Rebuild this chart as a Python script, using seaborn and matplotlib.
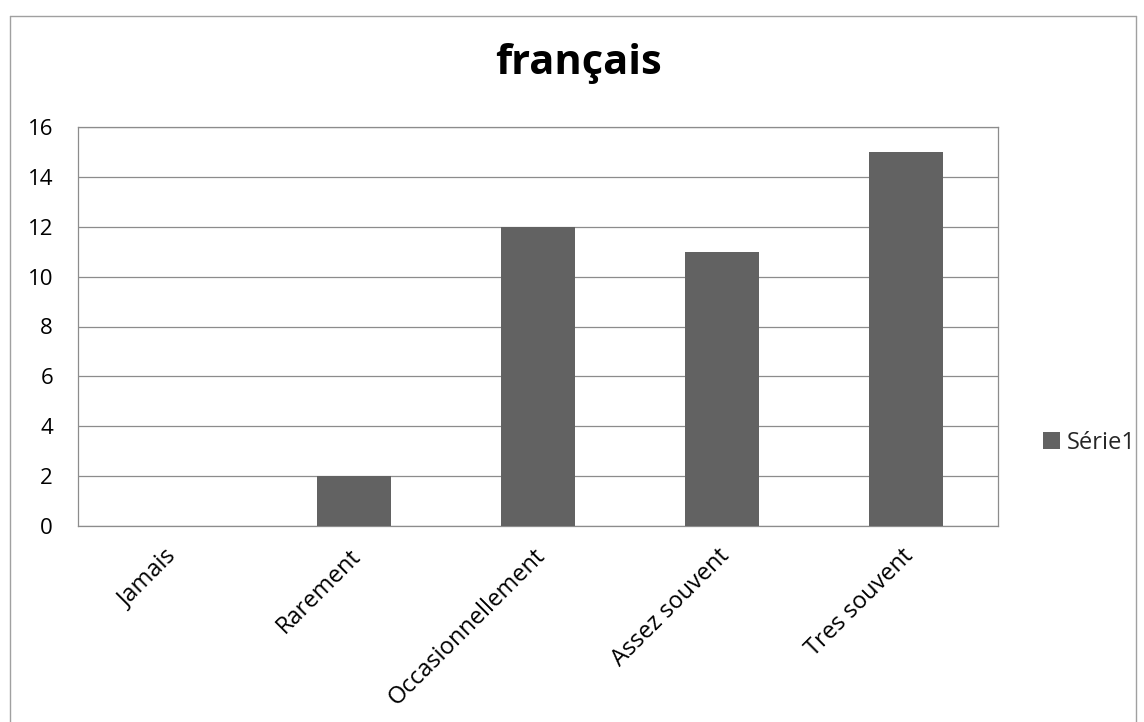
import matplotlib
matplotlib.use("Agg")
import matplotlib.pyplot as plt
from matplotlib.lines import Line2D
from matplotlib.patches import Patch
from matplotlib.transforms import ScaledTranslation
import seaborn as sns
import pandas as pd

categories = ["Jamais", "Rarement", "Occasionnellement", "Assez souvent", "Tres souvent"]
values = [0, 2, 12, 11, 15]
series_name = "Série1"
title = "français"
yticks = [0, 2, 4, 6, 8, 10, 12, 14, 16]

bar_color = "#626262"
grid_color = "#8c8c8c"
font = ["Open Sans", "DejaVu Sans"]

sns.set_theme(style="white")
plt.rcParams["font.family"] = font

W, H = 1144, 722
fig = plt.figure(figsize=(W / 100, H / 100), dpi=100)
fig.patch.set_facecolor("white")

# plot area in pixel coordinates
left, right, top, bottom = 78, 998, 127, 526
ax = fig.add_axes([left / W, 1 - bottom / H, (right - left) / W, (bottom - top) / H])

df = pd.DataFrame({"cat": categories, "val": values})
sns.barplot(data=df, x="cat", y="val", color=bar_color, width=0.4, ax=ax,
            saturation=1, edgecolor="none", zorder=3)

ax.set_ylim(0, 16)
ax.set_xlim(-0.5, len(categories) - 0.5)
ax.set_yticks(yticks)
ax.set_yticklabels([str(t) for t in yticks], fontsize=16, color="black")
ax.tick_params(axis="y", length=0, pad=18)
ax.tick_params(axis="x", length=0, pad=6)
ax.set_xticks(range(len(categories)))
ax.set_xticklabels(categories, rotation=45, ha="right", rotation_mode="anchor",
                   fontsize=17, color="black")
ax.set_xlabel("")
ax.set_ylabel("")
ax.yaxis.grid(True, color=grid_color, linewidth=0.9, zorder=0)
ax.xaxis.grid(False)
for side in ["left", "bottom", "top", "right"]:
    ax.spines[side].set_visible(True)
    ax.spines[side].set_color(grid_color)
    ax.spines[side].set_linewidth(0.9)

# nudge the rotated category labels so they sit under each category
offset = ScaledTranslation(-5 / 100, -10 / 100, fig.dpi_scale_trans)
for lbl in ax.get_xticklabels():
    lbl.set_transform(lbl.get_transform() + offset)

fig.text((497 + 661) / 2 / W, 1 - 64 / H, title, ha="center", va="center",
         fontsize=30, fontweight="bold", color="black")

handle = Patch(facecolor=bar_color, edgecolor="none")
fig.legend([handle], [series_name], loc="center left",
           bbox_to_anchor=(1022 / W, 1 - 443 / H), frameon=False,
           fontsize=17, handlelength=0.7, handleheight=0.7, handletextpad=0.3)

# chart frame
fx0, fy0, fx1 = 9.5 / W, 1 - 15.5 / H, 1135.5 / W
frame_kw = dict(color="#a0a0a0", linewidth=1.0, transform=fig.transFigure)
fig.add_artist(Line2D([fx0, fx0], [0, fy0], **frame_kw))
fig.add_artist(Line2D([fx0, fx1], [fy0, fy0], **frame_kw))
fig.add_artist(Line2D([fx1, fx1], [0, fy0], **frame_kw))

fig.savefig("out.png", dpi=100, facecolor="white")
